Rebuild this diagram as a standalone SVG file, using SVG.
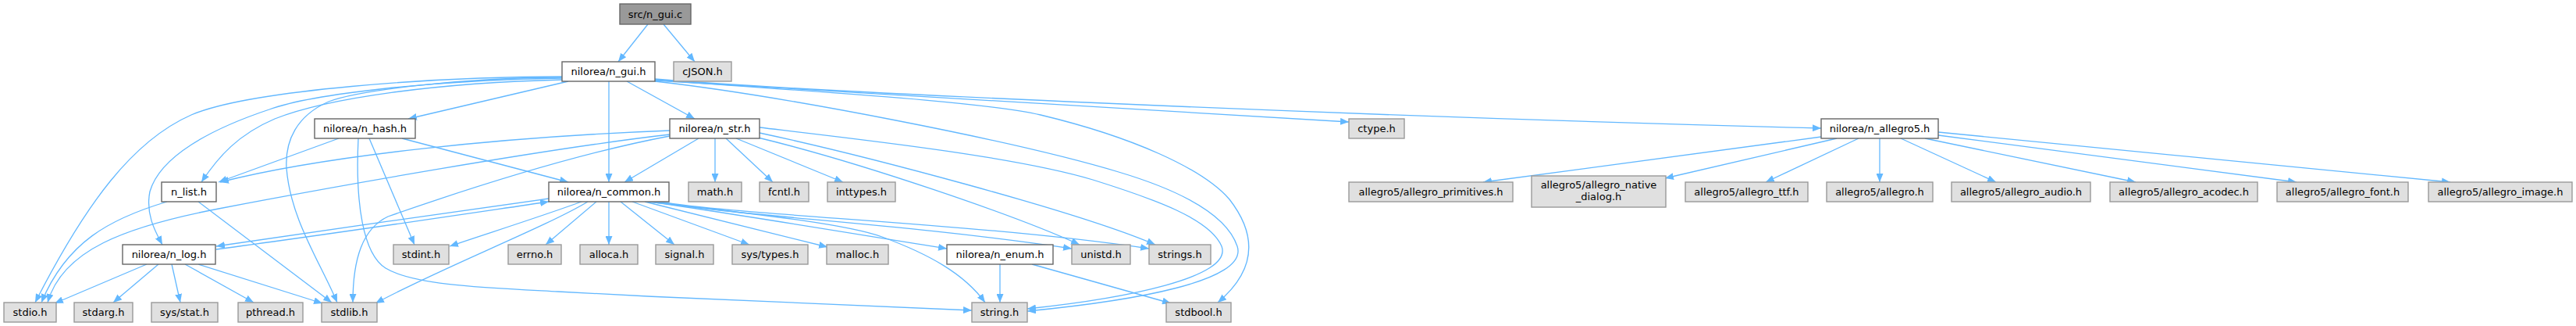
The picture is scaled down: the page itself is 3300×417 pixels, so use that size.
<svg xmlns="http://www.w3.org/2000/svg" width="3300" height="417" viewBox="0 0 3300 417">
<style>
.n rect{fill:#ffffff;stroke:#666666;stroke-width:1.4}
.x rect{fill:#e0e0e0;stroke:#999999;stroke-width:1.4}
.r rect{fill:#999999;stroke:#666666;stroke-width:1.4}
text{font-family:"DejaVu Sans","Liberation Sans",sans-serif;font-size:13px;fill:#000000;text-anchor:middle}
#edges path{fill:none;stroke:#63b8ff;stroke-width:1.3;marker-end:url(#a)}
</style>
<defs>
<marker id="a" viewBox="0 0 11 9" refX="11" refY="4.5" markerWidth="11" markerHeight="9" markerUnits="userSpaceOnUse" orient="auto">
<path d="M0,0 L11,4.5 L0,9 z" fill="#63b8ff"/>
</marker>
</defs>
<rect width="3300" height="417" fill="#ffffff"/>
<g id="edges">
<path d="M830,31 L792,79"/>
<path d="M850,31 L890,79"/>
<path d="M728,104 L523,152"/>
<path d="M720,102 C560,106 420,125 352,152 C305,172 280,200 258,233"/>
<path d="M720,100 C560,102 400,120 345,140 C270,165 205,200 192,245 C186,275 200,298 208,313"/>
<path d="M720,98 C560,98 320,115 245,147 C170,180 110,260 45,387"/>
<path d="M720,99 C600,99 460,115 421,130 C380,148 365,180 367,215 C372,280 410,335 432,387"/>
<path d="M780,104 L780,233"/>
<path d="M803,104 L890,152"/>
<path d="M839,104 C1000,122 1300,180 1433,220 C1500,240 1570,270 1585,315 C1600,360 1450,385 1316,398"/>
<path d="M839,102 C1000,115 1250,128 1333,147 C1450,175 1540,215 1575,255 C1610,300 1610,345 1560,387"/>
<path d="M839,103 L1728,156"/>
<path d="M839,101 C1000,115 1700,148 2333,164"/>
<path d="M434,177 L280,233"/>
<path d="M515,177 L728,233"/>
<path d="M473,177 L531,313"/>
<path d="M459,177 C455,260 465,325 494,343 C530,365 620,368 715,373 C900,383 1100,392 1245,397"/>
<path d="M858,167 C650,175 420,198 282,233"/>
<path d="M858,172 C700,190 420,240 280,267 C160,290 80,320 61,387"/>
<path d="M858,174 C720,200 560,255 497,277 C465,292 452,330 452,387"/>
<path d="M895,177 L800,233"/>
<path d="M916,177 L916,233"/>
<path d="M930,177 L990,233"/>
<path d="M943,177 L1080,233"/>
<path d="M971,176 C1100,207 1300,275 1383,313"/>
<path d="M973,170 C1100,197 1380,270 1480,313"/>
<path d="M973,163 C1100,178 1300,200 1400,230 C1480,255 1550,280 1565,315 C1580,355 1440,382 1316,395"/>
<path d="M214,258 C140,280 85,310 53,387"/>
<path d="M254,258 L425,387"/>
<path d="M188,338 L70,388"/>
<path d="M203,338 L145,387"/>
<path d="M220,338 L231,387"/>
<path d="M237,338 L325,387"/>
<path d="M254,338 L413,388"/>
<path d="M277,319 C420,300 560,279 703,258"/>
<path d="M703,254 C560,274 420,294 277,315"/>
<path d="M745,258 C690,278 620,300 576,315"/>
<path d="M753,258 C700,290 560,345 481,388"/>
<path d="M764,258 L699,313"/>
<path d="M780,258 L780,313"/>
<path d="M795,258 L864,313"/>
<path d="M810,258 L960,313"/>
<path d="M826,258 L1060,316"/>
<path d="M833,258 C950,275 1100,300 1213,318"/>
<path d="M840,258 C950,277 1150,285 1373,318"/>
<path d="M845,258 C950,276 1250,285 1472,318"/>
<path d="M830,258 C950,272 1080,285 1130,303 C1190,325 1235,350 1262,387"/>
<path d="M1281,338 L1281,387"/>
<path d="M1322,338 L1500,388"/>
<path d="M2333,175 L1900,233"/>
<path d="M2353,177 L2133,228"/>
<path d="M2381,177 L2262,233"/>
<path d="M2408,177 L2408,233"/>
<path d="M2435,177 L2557,233"/>
<path d="M2466,177 L2736,233"/>
<path d="M2483,173 L2942,233"/>
<path d="M2483,169 L3139,233"/>
</g>
<g id="n_gui_c" class="r"><rect x="794" y="5" width="91" height="26"/><text x="839.5" y="22.5">src/n_gui.c</text></g>
<g id="n_gui_h" class="n"><rect x="720" y="79" width="119" height="25"/><text x="779.5" y="96">nilorea/n_gui.h</text></g>
<g id="cjson_h" class="x"><rect x="863" y="79" width="74" height="25"/><text x="900" y="96">cJSON.h</text></g>
<g id="n_hash_h" class="n"><rect x="403" y="152" width="129" height="25"/><text x="467.5" y="169">nilorea/n_hash.h</text></g>
<g id="n_str_h" class="n"><rect x="858" y="152" width="115" height="25"/><text x="915.5" y="169">nilorea/n_str.h</text></g>
<g id="ctype_h" class="x"><rect x="1728" y="152" width="71" height="25"/><text x="1763.5" y="169">ctype.h</text></g>
<g id="n_allegro5_h" class="n"><rect x="2333" y="152" width="150" height="25"/><text x="2408" y="169">nilorea/n_allegro5.h</text></g>
<g id="n_list_h" class="n"><rect x="207" y="233" width="70" height="25"/><text x="242" y="250">n_list.h</text></g>
<g id="n_common_h" class="n"><rect x="703" y="233" width="154" height="25"/><text x="780" y="250">nilorea/n_common.h</text></g>
<g id="math_h" class="x"><rect x="882" y="233" width="68" height="25"/><text x="916" y="250">math.h</text></g>
<g id="fcntl_h" class="x"><rect x="973" y="233" width="63" height="25"/><text x="1004.5" y="250">fcntl.h</text></g>
<g id="inttypes_h" class="x"><rect x="1060" y="233" width="87" height="25"/><text x="1103.5" y="250">inttypes.h</text></g>
<g id="allegro_primitives_h" class="x"><rect x="1728" y="233" width="210" height="25"/><text x="1833" y="250">allegro5/allegro_primitives.h</text></g>
<g id="allegro_native_dialog_h" class="x"><rect x="1962" y="225" width="172" height="40"/><text x="2048" y="241">allegro5/allegro_native</text><text x="2048" y="256">_dialog.h</text></g>
<g id="allegro_ttf_h" class="x"><rect x="2159" y="233" width="157" height="25"/><text x="2237.5" y="250">allegro5/allegro_ttf.h</text></g>
<g id="allegro_h" class="x"><rect x="2340" y="233" width="136" height="25"/><text x="2408" y="250">allegro5/allegro.h</text></g>
<g id="allegro_audio_h" class="x"><rect x="2500" y="233" width="178" height="25"/><text x="2589" y="250">allegro5/allegro_audio.h</text></g>
<g id="allegro_acodec_h" class="x"><rect x="2703" y="233" width="189" height="25"/><text x="2797.5" y="250">allegro5/allegro_acodec.h</text></g>
<g id="allegro_font_h" class="x"><rect x="2917" y="233" width="168" height="25"/><text x="3001" y="250">allegro5/allegro_font.h</text></g>
<g id="allegro_image_h" class="x"><rect x="3111" y="233" width="184" height="25"/><text x="3203" y="250">allegro5/allegro_image.h</text></g>
<g id="n_log_h" class="n"><rect x="157" y="313" width="119" height="25"/><text x="216.5" y="330">nilorea/n_log.h</text></g>
<g id="stdint_h" class="x"><rect x="504" y="313" width="71" height="25"/><text x="539.5" y="330">stdint.h</text></g>
<g id="errno_h" class="x"><rect x="651" y="313" width="68" height="25"/><text x="685" y="330">errno.h</text></g>
<g id="alloca_h" class="x"><rect x="743" y="313" width="74" height="25"/><text x="780" y="330">alloca.h</text></g>
<g id="signal_h" class="x"><rect x="840" y="313" width="74" height="25"/><text x="877" y="330">signal.h</text></g>
<g id="sys_types_h" class="x"><rect x="938" y="313" width="97" height="25"/><text x="986.5" y="330">sys/types.h</text></g>
<g id="malloc_h" class="x"><rect x="1059" y="313" width="79" height="25"/><text x="1098.5" y="330">malloc.h</text></g>
<g id="n_enum_h" class="n"><rect x="1213" y="313" width="136" height="25"/><text x="1281" y="330">nilorea/n_enum.h</text></g>
<g id="unistd_h" class="x"><rect x="1373" y="313" width="75" height="25"/><text x="1410.5" y="330">unistd.h</text></g>
<g id="strings_h" class="x"><rect x="1472" y="313" width="79" height="25"/><text x="1511.5" y="330">strings.h</text></g>
<g id="stdio_h" class="x"><rect x="5" y="387" width="67" height="25"/><text x="38.5" y="404">stdio.h</text></g>
<g id="stdarg_h" class="x"><rect x="95" y="387" width="75" height="25"/><text x="132.5" y="404">stdarg.h</text></g>
<g id="sys_stat_h" class="x"><rect x="194" y="387" width="85" height="25"/><text x="236.5" y="404">sys/stat.h</text></g>
<g id="pthread_h" class="x"><rect x="305" y="387" width="83" height="25"/><text x="346.5" y="404">pthread.h</text></g>
<g id="stdlib_h" class="x"><rect x="412" y="387" width="71" height="25"/><text x="447.5" y="404">stdlib.h</text></g>
<g id="string_h" class="x"><rect x="1245" y="387" width="71" height="25"/><text x="1280.5" y="404">string.h</text></g>
<g id="stdbool_h" class="x"><rect x="1494" y="387" width="83" height="25"/><text x="1535.5" y="404">stdbool.h</text></g>
</svg>
